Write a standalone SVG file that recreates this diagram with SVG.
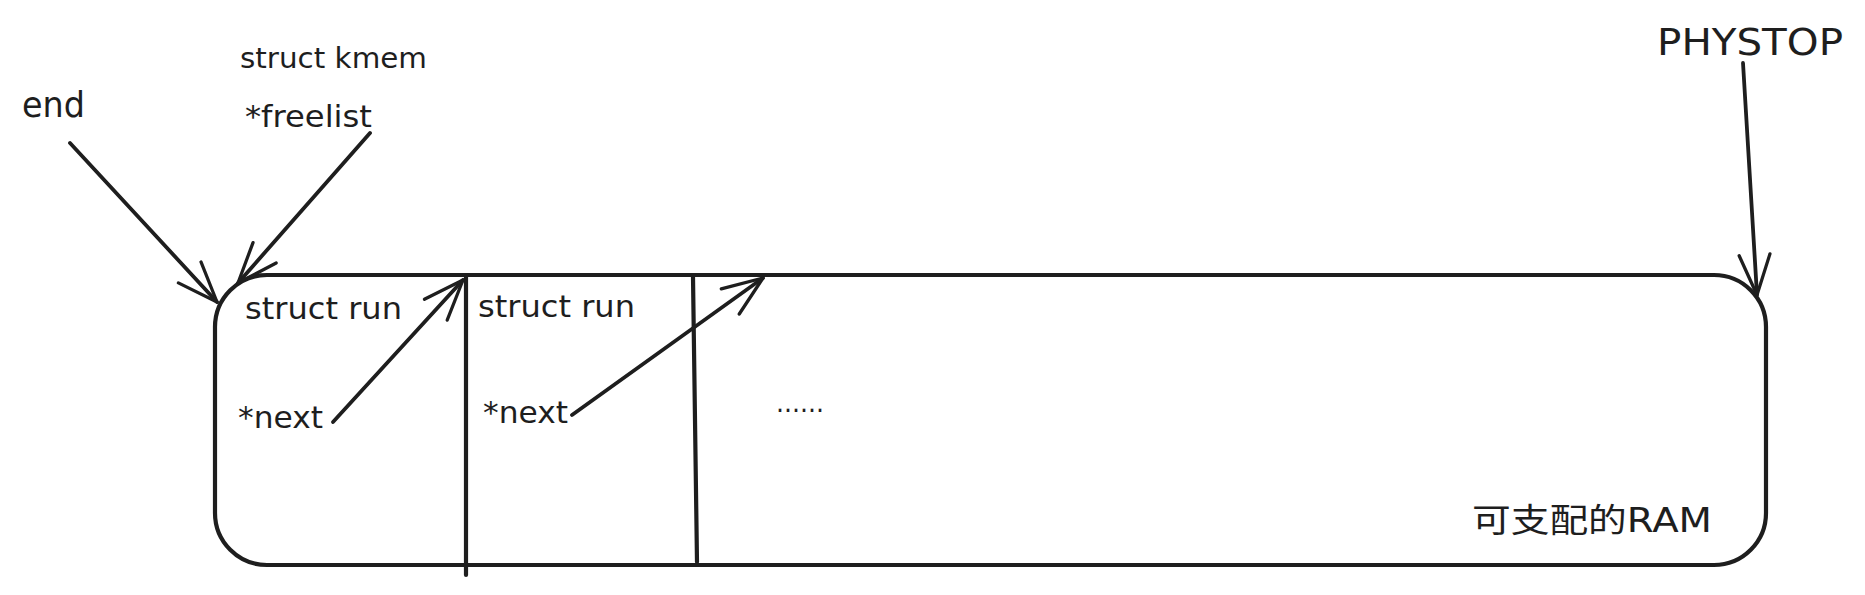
<svg xmlns="http://www.w3.org/2000/svg" width="1865" height="595" viewBox="0 0 1865 595">
<style>
  .bg { fill: #ffffff; }
  .shape { fill: none; stroke: #1e1e1e; stroke-width: 4.2; stroke-linecap: round; stroke-linejoin: round; }
  .edge { fill: none; stroke: #1e1e1e; stroke-width: 3.8; stroke-linecap: round; stroke-linejoin: round; }
  .t { font-family: "DejaVu Sans", "Noto Sans CJK SC", sans-serif; fill: #1e1e1e; }
</style>
<defs>
  <marker id="arrow" markerUnits="userSpaceOnUse" markerWidth="60" markerHeight="60" refX="0" refY="0" orient="auto" overflow="visible" viewBox="-60 -30 70 60">
    <path d="M -47 -18 L 0 0 L -47 18" fill="none" stroke="#1e1e1e" stroke-width="3.8" stroke-linecap="round" stroke-linejoin="round"/>
  </marker>
</defs>
<rect class="bg" x="0" y="0" width="1865" height="595"/>

<g id="ram">
  <rect class="shape" x="215" y="275" width="1551" height="290" rx="52" ry="52"/>
  <text class="t" x="1472" y="532" font-size="33" textLength="240" lengthAdjust="spacingAndGlyphs">可支配的RAM</text>
</g>

<g id="run1">
  <line class="shape" x1="466" y1="275" x2="466" y2="575"/>
  <text class="t" x="245" y="319" font-size="30" textLength="157" lengthAdjust="spacingAndGlyphs">struct run</text>
  <text class="t" x="238" y="428" font-size="30" textLength="85" lengthAdjust="spacingAndGlyphs">*next</text>
</g>

<g id="run2">
  <line class="shape" x1="693" y1="277" x2="697" y2="562"/>
  <text class="t" x="478" y="317" font-size="30" textLength="157" lengthAdjust="spacingAndGlyphs">struct run</text>
  <text class="t" x="483" y="423" font-size="30" textLength="85" lengthAdjust="spacingAndGlyphs">*next</text>
</g>

<g id="rest">
  <text class="t" x="776" y="412" font-size="26" textLength="48" lengthAdjust="spacingAndGlyphs">......</text>
</g>

<g id="end">
  <text class="t" x="22" y="117" font-size="35" textLength="63" lengthAdjust="spacingAndGlyphs">end</text>
</g>

<g id="kmem">
  <text class="t" x="240" y="68" font-size="28" textLength="187" lengthAdjust="spacingAndGlyphs">struct kmem</text>
  <text class="t" x="245" y="127" font-size="31" textLength="127" lengthAdjust="spacingAndGlyphs">*freelist</text>
</g>

<g id="phystop">
  <text class="t" x="1657" y="55" font-size="38" textLength="186" lengthAdjust="spacingAndGlyphs">PHYSTOP</text>
</g>

<g id="connectors">
  <path class="edge" d="M 70 143 L 217 302" marker-end="url(#arrow)"/>
  <path class="edge" d="M 370 133 L 238 283" marker-end="url(#arrow)"/>
  <path class="edge" d="M 333 422 L 463 280" marker-end="url(#arrow)"/>
  <path class="edge" d="M 572 415 L 763 278" marker-end="url(#arrow)"/>
  <path class="edge" d="M 1743 63 L 1757 295" marker-end="url(#arrow)"/>
</g>
</svg>
